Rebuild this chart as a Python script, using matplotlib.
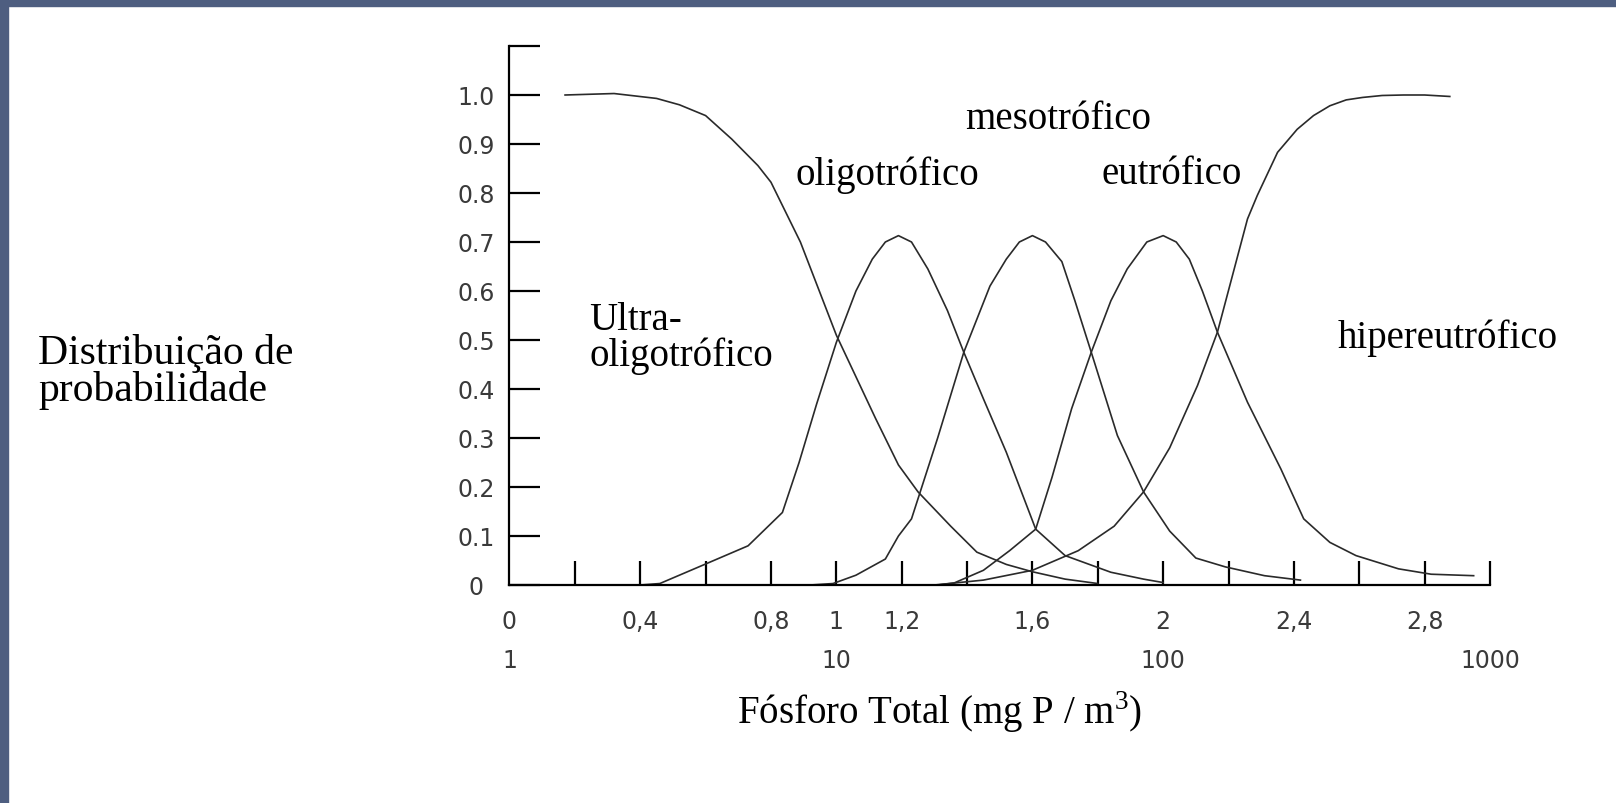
import matplotlib
matplotlib.use("Agg")
import matplotlib.pyplot as plt
from matplotlib.patches import Rectangle

# x axis runs in log10(P) units, y is probability
ultra_x = [0.17, 0.32, 0.45, 0.52, 0.60, 0.68, 0.76, 0.80, 0.89, 1.00, 1.12, 1.19, 1.25, 1.35, 1.43, 1.52, 1.60, 1.70, 1.80]
ultra_y = [1.0, 1.003, 0.993, 0.98, 0.958, 0.91, 0.856, 0.822, 0.70, 0.51, 0.34, 0.245, 0.19, 0.12, 0.067, 0.042, 0.027, 0.012, 0.003]

olig_x = [0.40, 0.46, 0.59, 0.73, 0.835, 0.886, 0.94, 1.0, 1.06, 1.11, 1.15, 1.19, 1.23, 1.28, 1.34, 1.39, 1.45, 1.52, 1.61, 1.70, 1.84, 1.94, 2.0]
olig_y = [0, 0.003, 0.04, 0.08, 0.148, 0.25, 0.37, 0.495, 0.60, 0.665, 0.70, 0.713, 0.70, 0.645, 0.56, 0.475, 0.38, 0.271, 0.114, 0.06, 0.026, 0.012, 0.005]

meso_x = [0.92, 0.99, 1.06, 1.15, 1.19, 1.23, 1.31, 1.39, 1.47, 1.52, 1.56, 1.60, 1.64, 1.69, 1.73, 1.78, 1.86, 1.94, 2.02, 2.10, 2.19, 2.31, 2.42]
meso_y = [0, 0.003, 0.02, 0.053, 0.10, 0.135, 0.30, 0.475, 0.61, 0.665, 0.70, 0.713, 0.70, 0.66, 0.58, 0.475, 0.305, 0.19, 0.11, 0.055, 0.037, 0.019, 0.01]

eutro_x = [1.31, 1.36, 1.45, 1.53, 1.61, 1.66, 1.72, 1.78, 1.84, 1.89, 1.95, 2.0, 2.04, 2.08, 2.12, 2.166, 2.258, 2.36, 2.43, 2.51, 2.59, 2.72, 2.82, 2.95]
eutro_y = [0, 0.004, 0.03, 0.07, 0.114, 0.22, 0.36, 0.475, 0.58, 0.645, 0.70, 0.713, 0.70, 0.665, 0.60, 0.516, 0.373, 0.237, 0.135, 0.087, 0.06, 0.033, 0.022, 0.019]

hyper_x = [1.30, 1.45, 1.60, 1.74, 1.85, 1.94, 2.02, 2.105, 2.166, 2.258, 2.288, 2.35, 2.41, 2.46, 2.51, 2.56, 2.61, 2.67, 2.735, 2.80, 2.877]
hyper_y = [0, 0.01, 0.03, 0.07, 0.12, 0.19, 0.28, 0.407, 0.516, 0.747, 0.795, 0.883, 0.93, 0.958, 0.978, 0.99, 0.995, 0.999, 1.0, 1.0, 0.997]

curves = [(ultra_x, ultra_y), (olig_x, olig_y), (meso_x, meso_y), (eutro_x, eutro_y), (hyper_x, hyper_y)]

# class labels: (text, x, y) in data units
class_labels = [
    ("Ultra-\noligotrófico", 0.245, 0.505),
    ("oligotrófico", 1.155, 0.838),
    ("mesotrófico", 1.68, 0.952),
    ("eutrófico", 2.025, 0.84),
    ("hipereutrófico", 2.87, 0.506),
]

y_ticks = [0, 0.1, 0.2, 0.3, 0.4, 0.5, 0.6, 0.7, 0.8, 0.9, 1.0, 1.1]
y_labels = ["0", "0.1", "0.2", "0.3", "0.4", "0.5", "0.6", "0.7", "0.8", "0.9", "1.0", ""]
x_ticks = [0.2, 0.4, 0.6, 0.8, 1.0, 1.2, 1.4, 1.6, 1.8, 2.0, 2.2, 2.4, 2.6, 2.8, 3.0]
log_pos = [0, 0.4, 0.8, 1.0, 1.2, 1.6, 2.0, 2.4, 2.8]
log_labels = ["0", "0,4", "0,8", "1", "1,2", "1,6", "2", "2,4", "2,8"]
conc_pos = [0, 1, 2, 3]
conc_labels = ["1", "10", "100", "1000"]

plt.rcParams["mathtext.fontset"] = "custom"
plt.rcParams["mathtext.rm"] = "Liberation Serif"

W, H = 1616, 804
fig = plt.figure(figsize=(W / 100, H / 100), dpi=100)
fig.patch.set_facecolor("white")

# slide frame strips on the left and top
border = "#4e5e80"
fig.patches.append(Rectangle((0, 0), 8 / W, 1, transform=fig.transFigure, color=border, zorder=0))
fig.patches.append(Rectangle((0, 1 - 7 / H), 1, 7 / H, transform=fig.transFigure, color=border, zorder=0))

x0, x1 = 509.5, 1490
y0, y1 = 586, 47
ax = fig.add_axes([x0 / W, (H - y0) / H, (x1 - x0) / W, (y0 - y1) / H])
ax.set_xlim(0, 3.0)
ax.set_ylim(0, 1.1)
ax.patch.set_alpha(0)

for xs, ys in curves:
    ax.plot(xs, ys, color="#2a2a2a", lw=1.2, solid_joinstyle="round")

for s in ["top", "right"]:
    ax.spines[s].set_visible(False)
for s in ["left", "bottom"]:
    ax.spines[s].set_linewidth(1.6)
    ax.spines[s].set_color("black")

tick_font = {"family": "DejaVu Sans", "size": 17, "color": "#3a3a3a"}

ax.set_yticks(y_ticks)
ax.set_yticklabels(y_labels, **tick_font)
ax.tick_params(axis="y", direction="in", length=22, width=1.6, pad=24)
for lab in ax.get_yticklabels():
    lab.set_horizontalalignment("center")

ax.set_xticks(x_ticks)
ax.set_xticklabels([])
ax.tick_params(axis="x", direction="in", length=17, width=1.6)

tr = ax.get_xaxis_transform()
for p, t in zip(log_pos, log_labels):
    ax.text(p, -0.066, t, transform=tr, ha="center", va="center", **tick_font)
for p, t in zip(conc_pos, conc_labels):
    ax.text(p, -0.14, t, transform=tr, ha="center", va="center", **tick_font)

serif = {"family": "Liberation Serif", "size": 28, "color": "black"}
for txt, px, py in class_labels:
    ha = "left" if txt.startswith("Ultra") else "center"
    ax.text(px, py, txt, ha=ha, va="center", linespacing=0.95, **serif)

fig.text(38 / W, 1 - 372 / H, "Distribuição de\nprobabilidade", ha="left", va="center",
         linespacing=0.95, family="Liberation Serif", size=30, color="black")
fig.text(940 / W, 1 - 712 / H, "Fósforo Total (mg P / m$^{3}$)", ha="center", va="center", **serif)

fig.savefig("out.png", dpi=100, facecolor="white")
